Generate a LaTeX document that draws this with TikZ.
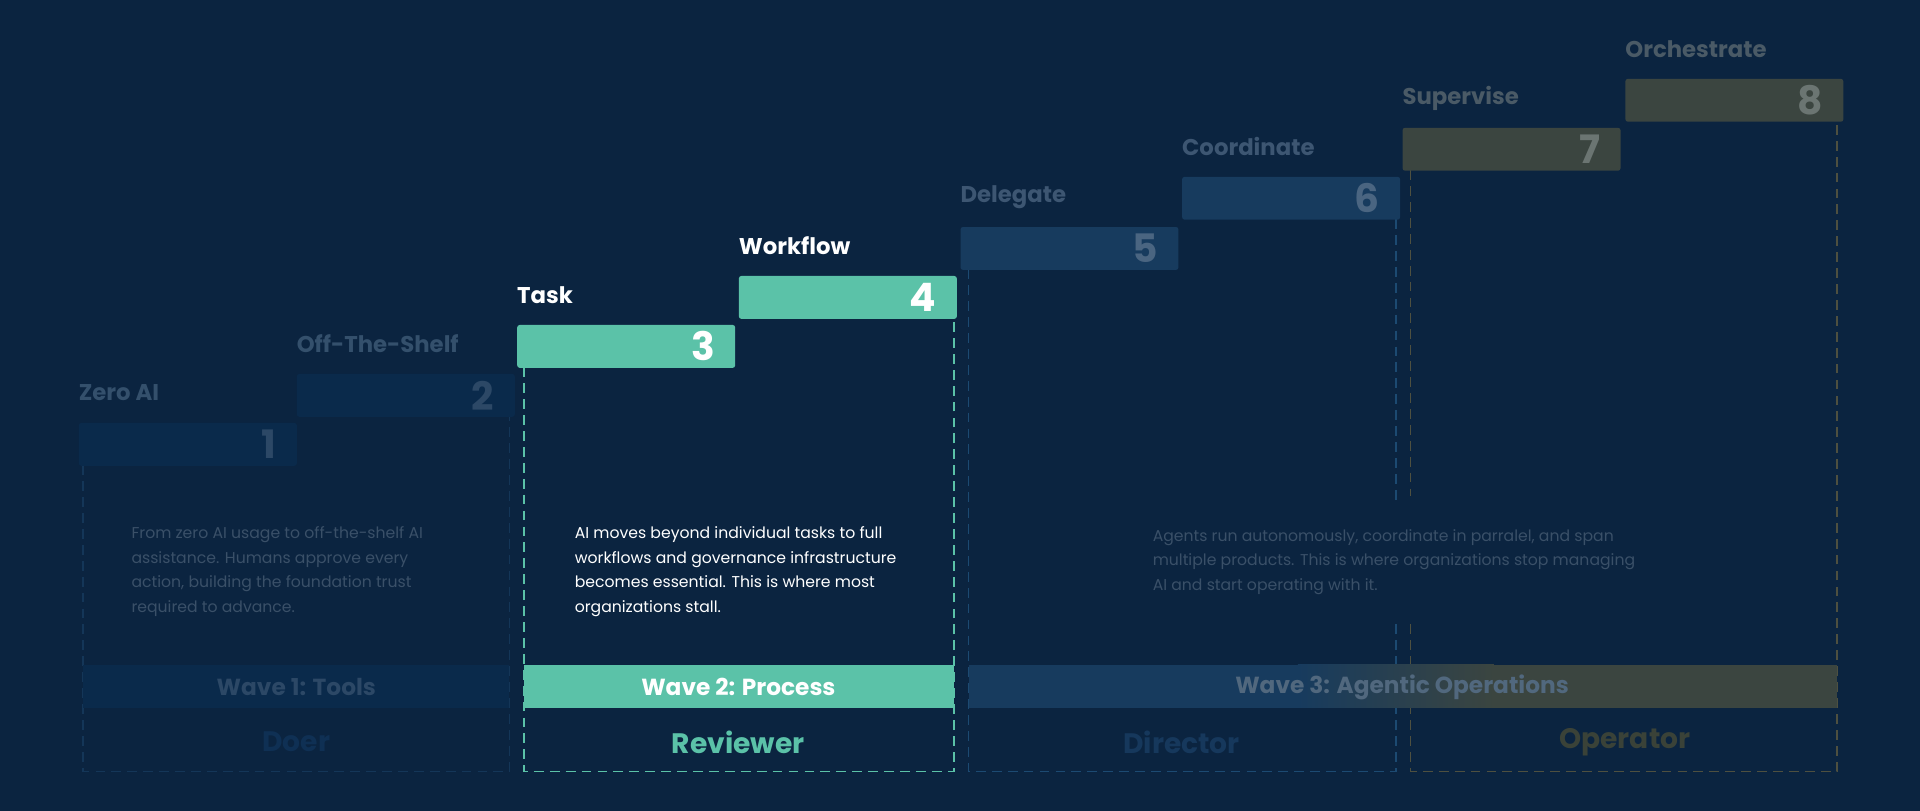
\documentclass[tikz,border=0pt]{standalone}
\usepackage{fontspec}
\setmainfont{Poppins}
\begin{document}
\begin{tikzpicture}[x=0.5pt,y=-0.5pt,
 box/.style={rounded corners=1pt,inner sep=0,anchor=north west},
 num/.style={font=\bfseries\fontsize{16}{16}\selectfont,anchor=east},
 lab/.style={font=\bfseries\fontsize{9.3}{11}\selectfont,anchor=west},
 desc/.style={font=\fontsize{6.4}{10}\selectfont,anchor=north west,align=left,inner sep=0},
 wave/.style={font=\bfseries\fontsize{9.5}{11}\selectfont},
 role/.style={font=\bfseries\fontsize{11.5}{13}\selectfont},
 dsh/.style={dashed,dash pattern=on 4pt off 2.5pt,line width=0.7pt}]
\definecolor{bg}{HTML}{0B2440}
\definecolor{bA}{HTML}{0A2A4B}
\definecolor{nA}{HTML}{2C4866}
\definecolor{lA}{HTML}{34506C}
\definecolor{bB}{HTML}{173B5E}
\definecolor{nB}{HTML}{4A6581}
\definecolor{lB}{HTML}{3D5672}
\definecolor{bC}{HTML}{3B4540}
\definecolor{nC}{HTML}{6B7572}
\definecolor{lC}{HTML}{4A5A66}
\definecolor{teal}{HTML}{5BC2A8}
\definecolor{dA}{HTML}{143658}
\definecolor{dB}{HTML}{1C4A72}
\definecolor{dC}{HTML}{4E5040}
\definecolor{txA}{HTML}{3A5068}
\definecolor{rA}{HTML}{0F3054}
\definecolor{rB}{HTML}{16385C}
\definecolor{rC}{HTML}{3A4238}
\fill[bg] (0,0) rectangle (1568,662);
% dashed frames
\draw[dsh,dA] (68,380) -- (68,630) -- (416,630) -- (416,340);
\draw[dsh,teal] (428,300) -- (428,630) -- (779,630) -- (779,260);
\draw[dsh,dB] (791,220) -- (791,630) -- (1140,630) -- (1140,510);
\draw[dsh,dB] (1140,179) -- (1140,410);
\draw[dsh,dC] (1152,139) -- (1152,405);
\draw[dsh,dC] (1152,510) -- (1152,630) -- (1500,630) -- (1500,99);
% steps
\foreach \i/\x/\y/\t/\bc/\nc/\lc in {1/64/345/Zero AI/bA/nA/lA,2/242/305/Off-The-Shelf/bA/nA/lA,3/422/265/Task/teal/white/white,4/603/225/Workflow/teal/white/white,5/784/185/Delegate/bB/nB/lB,6/965/144/Coordinate/bB/nB/lB,7/1145/104/Supervise/bC/nC/lC,8/1327/64/Orchestrate/bC/nC/lC}{
 \node[box,fill=\bc,minimum width=178*0.5pt,minimum height=35*0.5pt] (s\i) at (\x,\y) {};
 \node[num,text=\nc] (n\i) at ([xshift=-5pt]s\i.east) {\i};
 \node[lab,text=\lc,inner sep=0] (l\i) at (\x,\y-24) {\t};
}
% descriptions
\node[desc,text=txA] (d1) at (107,430) {From zero AI usage to off-the-shelf AI\\assistance. Humans approve every\\action, building the foundation trust\\required to advance.};
\node[desc,text=white] (d2) at (469,430) {AI moves beyond individual tasks to full\\workflows and governance infrastructure\\becomes essential. This is where most\\organizations stall.};
\node[desc,text=txA] (d3) at (941,432) {Agents run autonomously, coordinate in parralel, and span\\multiple products. This is where organizations stop managing\\AI and start operating with it.};
% wave bars
\fill[bA] (68,543) rectangle (416,578);
\fill[teal] (428,543) rectangle (779,578);
\fill[bB] (791,543) rectangle (1060,578);
\shade[left color=bB,right color=bC] (1060,543) rectangle (1220,578);
\fill[bC] (1220,543) rectangle (1500,578);
\node[wave,text=nA] (w1) at (242,561) {Wave 1: Tools};
\node[wave,text=white] (w2) at (603,561) {Wave 2: Process};
\node[wave,text=nB!80!nC] (w3) at (1145,561) {Wave 3: Agentic Operations};
% roles
\node[role,text=rA] (r1) at (242,606) {Doer};
\node[role,text=teal] (r2) at (603,606) {Reviewer};
\node[role,text=rB] (r3) at (965,606) {Director};
\node[role,text=rC] (r4) at (1327,606) {Operator};
\end{tikzpicture}
\end{document}
